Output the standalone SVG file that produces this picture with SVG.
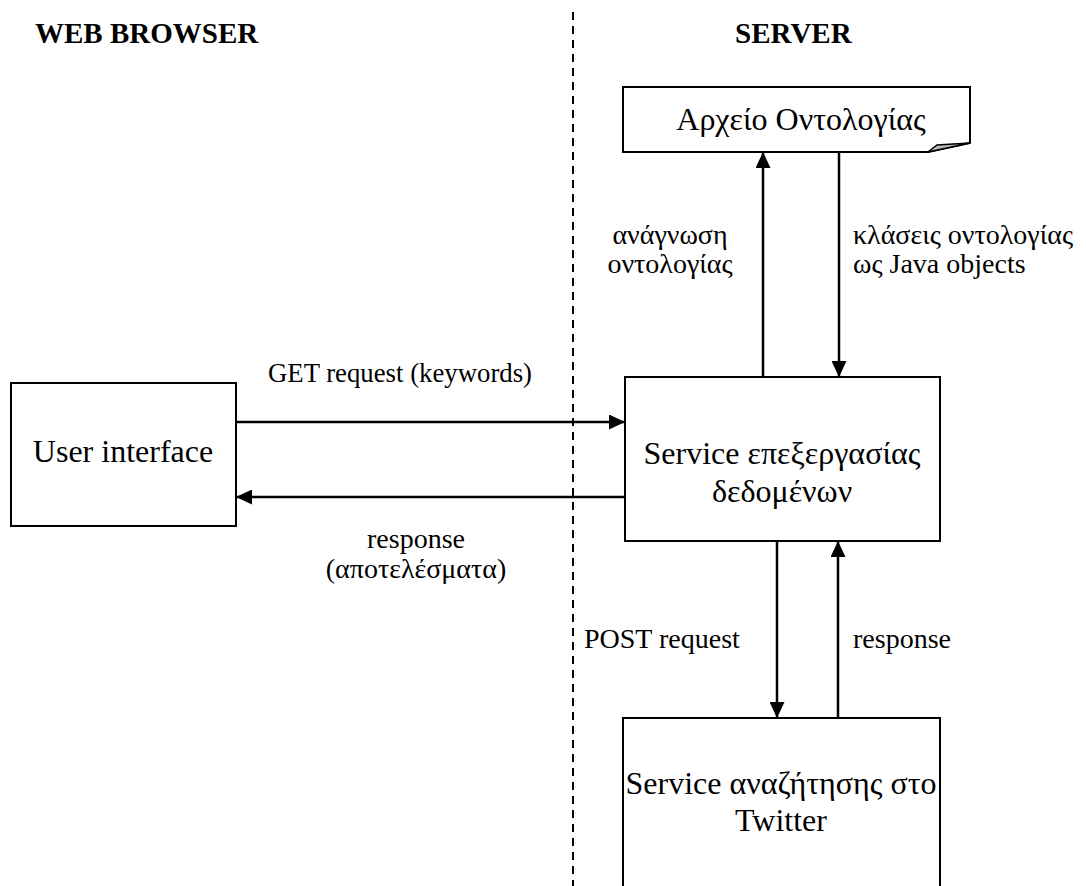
<svg xmlns="http://www.w3.org/2000/svg" width="1086" height="886" viewBox="0 0 1086 886">
<defs>
<style>
.box{fill:#fff;stroke:#000;stroke-width:2}
.t{font-family:"Liberation Serif","Times New Roman",serif;fill:#000}
.bt{font-size:32px;text-anchor:middle}
.lb{font-size:28px}
.hd{font-size:29px;font-weight:bold}
.ln{stroke:#000;stroke-width:2.5;fill:none}
</style>
<marker id="ah" markerWidth="16" markerHeight="15" refX="16" refY="7.5" orient="auto" markerUnits="userSpaceOnUse">
<path d="M0,0 L16,7.5 L0,15 Z" fill="#000"/>
</marker>
</defs>
<rect width="1086" height="886" fill="#fff"/>
<line x1="573" y1="12" x2="573" y2="886" stroke="#000" stroke-width="2" stroke-dasharray="8,6"/>
<text class="t hd" x="35" y="43">WEB BROWSER</text>
<text class="t hd" x="735" y="43">SERVER</text>
<g id="ontology">
<path class="box" d="M623,87 H970 V143 L928,152 H623 Z"/>
<path d="M928,152 L937,145 L970,143 Z" fill="#bbb" stroke="#000" stroke-width="1.5"/>
<text class="t bt" x="801" y="130">Αρχείο Οντολογίας</text>
</g>
<g id="ui">
<rect class="box" x="11" y="383" width="225" height="143"/>
<text class="t bt" x="123" y="462">User interface</text>
</g>
<g id="service">
<rect class="box" x="625" y="377" width="315" height="164"/>
<text class="t bt" x="782" y="464">Service επεξεργασίας</text>
<text class="t bt" x="782" y="502">δεδομένων</text>
</g>
<g id="twitter">
<rect class="box" x="623" y="718" width="317" height="190"/>
<text class="t bt" x="781" y="794">Service αναζήτησης στο</text>
<text class="t bt" x="781" y="831">Twitter</text>
</g>
<g id="connectors">
<line class="ln" x1="236" y1="422" x2="625" y2="422" marker-end="url(#ah)"/>
<line class="ln" x1="625" y1="497" x2="236" y2="497" marker-end="url(#ah)"/>
<line class="ln" x1="763" y1="377" x2="763" y2="152" marker-end="url(#ah)"/>
<line class="ln" x1="839" y1="152" x2="839" y2="377" marker-end="url(#ah)"/>
<line class="ln" x1="777" y1="541" x2="777" y2="718" marker-end="url(#ah)"/>
<line class="ln" x1="838" y1="718" x2="838" y2="541" marker-end="url(#ah)"/>
<text class="t lb" x="268" y="382" textLength="264" lengthAdjust="spacingAndGlyphs">GET request (keywords)</text>
<text class="t lb" x="416" y="548" text-anchor="middle">response</text>
<text class="t lb" x="416" y="578" text-anchor="middle">(αποτελέσματα)</text>
<text class="t lb" x="670" y="244" text-anchor="middle">ανάγνωση</text>
<text class="t lb" x="670" y="273" text-anchor="middle">οντολογίας</text>
<text class="t lb" x="853" y="244">κλάσεις οντολογίας</text>
<text class="t lb" x="853" y="273">ως Java objects</text>
<text class="t lb" x="584" y="648">POST request</text>
<text class="t lb" x="853" y="648">response</text>
</g>
</svg>
